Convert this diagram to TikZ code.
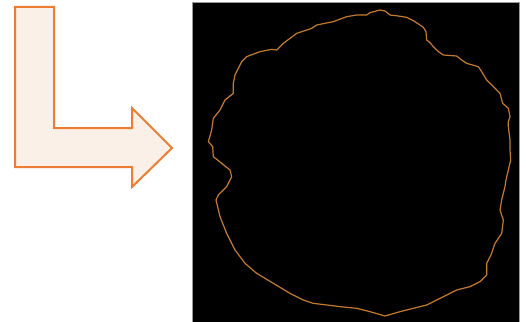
\documentclass[tikz,border=0pt]{standalone}
\usepackage{tikz}
\definecolor{arrowline}{HTML}{ED7D31}
\definecolor{arrowfill}{HTML}{FBF0E8}
\definecolor{contour}{HTML}{C47A2C}
\definecolor{frame}{HTML}{9A9A9A}
\tikzset{
  bigarrow/.style={draw=arrowline, fill=arrowfill, line width=2pt, line join=miter},
  panel/.style={draw=frame, fill=black, line width=1pt},
  outline/.style={draw=contour, line width=1.2pt, line join=round}
}
\begin{document}
\begin{tikzpicture}[x=1pt,y=-1pt]
\useasboundingbox (0,0) rectangle (526,321);
% L-shaped arrow
\path[bigarrow] (15,7) -- (54,7) -- (54,128) -- (132,128) -- (132,108) -- (172,148)
  -- (132,187) -- (132,167) -- (15,167) -- cycle;
% black panel
\path[panel] (192.5,2.5) rectangle (519.5,323);
% irregular contour
\begin{scope}[shift={(180,0)}, scale=1/3]
\path[outline] (600,30) -- (615,33) -- (630,45) -- (655,48) -- (680,52) -- (700,62) -- (720,75) -- (730,82) -- (738,95) -- (740,120)
 -- (750,128) -- (760,140) -- (775,155) -- (790,165) -- (830,168) -- (845,180) -- (860,190) -- (895,200)
 -- (905,215) -- (920,240) -- (940,260) -- (960,280) -- (968,310) -- (985,325) -- (990,350) -- (985,365) -- (985,380)
 -- (990,420) -- (990,450) -- (992,480) -- (985,510) -- (978,540) -- (975,560) -- (965,600) -- (960,630)
 -- (970,660) -- (965,700) -- (945,730) -- (935,760) -- (920,790) -- (920,825) -- (900,845) -- (870,860)
 -- (830,870) -- (800,885) -- (770,900) -- (740,915) -- (700,925) -- (660,935) -- (615,948) -- (570,935)
 -- (530,925) -- (480,920) -- (440,915) -- (400,910) -- (370,900) -- (330,880) -- (280,850) -- (230,820)
 -- (195,790) -- (165,750) -- (140,700) -- (120,650) -- (108,600) -- (115,585) -- (140,560) -- (155,530)
 -- (150,510) -- (125,490) -- (100,470) -- (98,440) -- (85,425) -- (95,390) -- (100,355) -- (120,330)
 -- (135,300) -- (160,280) -- (160,250) -- (165,225) -- (185,185) -- (200,170) -- (240,155) -- (275,148)
 -- (290,150) -- (310,130) -- (350,100) -- (395,85) -- (410,75) -- (460,65) -- (500,50) -- (530,45)
 -- (560,45) -- (570,38) -- cycle;
\end{scope}
\end{tikzpicture}
\end{document}
